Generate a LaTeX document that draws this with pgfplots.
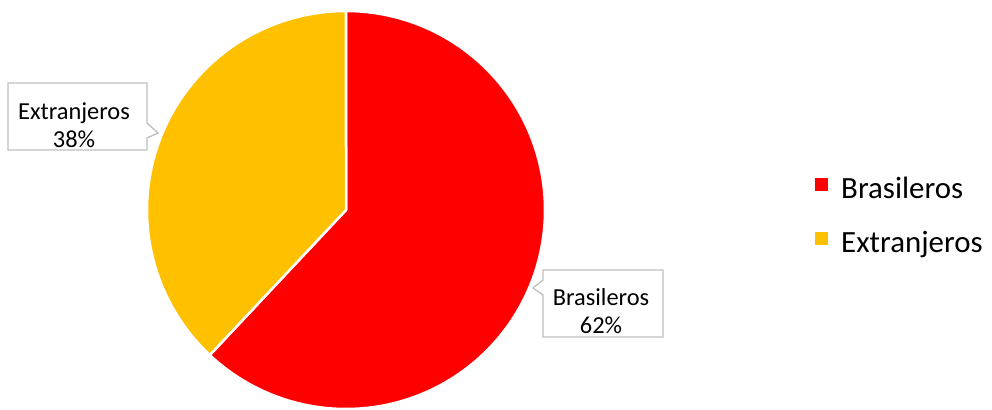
\documentclass[border=0pt]{standalone}
\usepackage{fontspec}
\setmainfont{Carlito}
\usepackage{pgfplots}
\usepackage{pgfplotstable}
\pgfplotsset{compat=1.18}
\definecolor{pieRed}{HTML}{FF0000}
\definecolor{pieYellow}{HTML}{FFC000}
\definecolor{callgray}{HTML}{BFBFBF}
\pgfplotstableread{
label value
Brasileros 62
Extranjeros 38
}\piedata
\pgfplotstablegetelem{0}{value}\of\piedata \let\va\pgfplotsretval
\pgfplotstablegetelem{1}{value}\of\piedata \let\vb\pgfplotsretval
\pgfmathsetmacro\total{\va+\vb}
\pgfmathsetmacro\fa{\va/\total}
\pgfmathsetmacro\fb{\vb/\total}
\pgfmathsetmacro\aB{90-360*\fa}
\pgfmathsetmacro\aE{\aB-360*\fb}
\begin{document}%
\begin{tikzpicture}
\begin{axis}[
  name=ax,
  scale only axis, width=992bp, height=410bp,
  xmin=0, xmax=992, ymin=0, ymax=410,
  hide axis, clip=false,
  legend style={at={(axis cs:815,233)}, anchor=north west, draw=none, fill=none,
    font=\fontsize{31}{37}\selectfont, row sep=31bp, column sep=13bp, inner sep=0pt,
    nodes={inner sep=0pt}},
  legend cell align=left,
  legend image code/.code={\fill[#1,draw=none] (0bp,-2bp) rectangle (13bp,11bp);},
]
\addplot[fill=pieRed, draw=white, line width=2.5bp, line join=round, domain=\aB:90, samples=240, variable=\t]
  ({346+199*cos(t)},{200+199*sin(t)}) -- (axis cs:346,200) -- cycle;
\addlegendentry{Brasileros}
\addplot[fill=pieYellow, draw=white, line width=2.5bp, line join=round, domain=\aE:\aB, samples=160, variable=\t]
  ({346+199*cos(t)},{200+199*sin(t)}) -- (axis cs:346,200) -- cycle;
\addlegendentry{Extranjeros}
% callout Extranjeros
\draw[callgray, fill=white, line width=1.3bp, line join=miter]
  (axis cs:8,327) -- (axis cs:147,327) -- (axis cs:147,287) -- (axis cs:158,277)
  -- (axis cs:147,272) -- (axis cs:147,260) -- (axis cs:8,260) -- cycle;
\node[align=center, font=\fontsize{24.5}{28.5}\selectfont, inner sep=0pt] at (axis cs:74,285) {Extranjeros\\38\%};
% callout Brasileros
\draw[callgray, fill=white, line width=1.3bp, line join=miter]
  (axis cs:543,140) -- (axis cs:663,140) -- (axis cs:663,73) -- (axis cs:543,73)
  -- (axis cs:543,115) -- (axis cs:533,122) -- (axis cs:543,130) -- cycle;
\node[align=center, font=\fontsize{24.5}{28.5}\selectfont, inner sep=0pt] at (axis cs:601,99) {Brasileros\\62\%};
\end{axis}
\pgfresetboundingbox
\path (ax.south west) rectangle (ax.north east);
\end{tikzpicture}%
\end{document}
